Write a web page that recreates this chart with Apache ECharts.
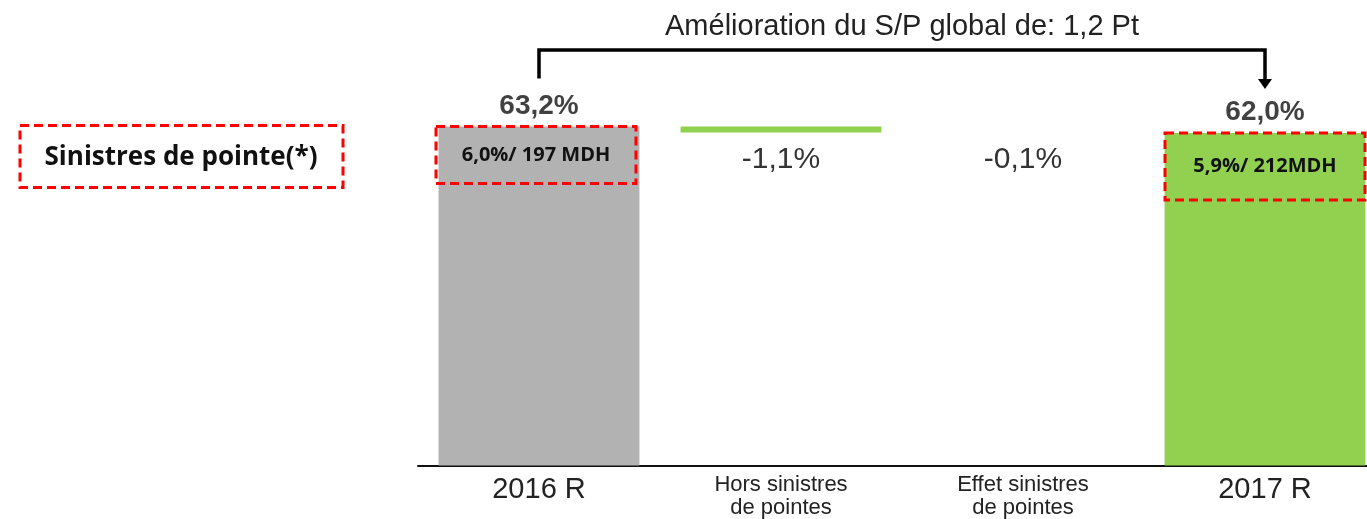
<!DOCTYPE html>
<html>
<head>
<meta charset="utf-8">
<script src="https://cdn.jsdelivr.net/npm/echarts@6/dist/echarts.min.js"></script>
<style>
  html, body { margin: 0; padding: 0; background: #fff; overflow: hidden; }
  #main { width: 1386px; height: 519px; }
</style>
</head>
<body>
<div id="main"></div>
<script>
// données du graphique (cascade S/P)
const categories = ['2016 R', 'Hors sinistres\nde pointes', 'Effet sinistres\nde pointes', '2017 R'];
const totals = [63.2, null, null, 62.0];
const deltas = [null, -1.1, -0.1, null];
const totalLabels = ['63,2%', '', '', '62,0%'];
const deltaLabels = ['', '-1,1%', '-0,1%', ''];
const boxLabels = ['6,0%/ 197 MDH', '', '', '5,9%/ 212MDH'];
const titleText = 'Amélioration du S/P global de: 1,2 Pt';
const sideNote = 'Sinistres de pointe(*)';

const GREY = '#b2b2b2', GREEN = '#92d050', RED = '#ff0000';
const SANS = '"Liberation Sans", Arial, sans-serif';
const BOLDSANS = '"Open Sans", "Noto Sans", sans-serif';

// base invisible + partie visible
let running = 0;
const base = [], visible = [];
categories.forEach(function (c, i) {
    if (totals[i] != null) {
        running = totals[i];
        base.push(0);
        visible.push(totals[i]);
    } else {
        let after = running + deltas[i];
        base.push(Math.min(running, after));
        visible.push(Math.abs(deltas[i]));
        running = after;
    }
});

const boxHeights = [57, 67, 0, 67];

const visibleData = visible.map(function (v, i) {
    if (totals[i] != null) {
        return {
            value: v,
            itemStyle: { color: i === 0 ? GREY : GREEN },
            label: {
                show: true,
                position: 'insideTop',
                distance: 0,
                offset: [i === 0 ? -3 : 0, 0],
                formatter: boxLabels[i],
                width: 200,
                height: boxHeights[i === 0 ? 0 : 3],
                lineHeight: boxHeights[i === 0 ? 0 : 3],
                align: 'center',
                borderColor: RED,
                borderWidth: 3,
                borderType: [9, 5],
                fontFamily: BOLDSANS,
                fontWeight: 'bold',
                fontSize: 20,
                color: '#111'
            }
        };
    }
    return {
        value: v,
        // l'effet -0,1 n'est pas visible dans l'original
        itemStyle: { color: Math.abs(deltas[i]) < 0.5 ? 'rgba(0,0,0,0)' : GREEN },
        label: {
            show: true,
            position: 'bottom',
            distance: 12,
            formatter: deltaLabels[i],
            fontFamily: SANS,
            fontSize: 30,
            color: '#333'
        }
    };
});

let option = {
    backgroundColor: '#fff',
    animation: false,
    grid: { left: 418, right: 0, top: 90, bottom: 53 },
    xAxis: {
        type: 'category',
        data: categories,
        axisTick: { show: false },
        axisLine: { lineStyle: { color: '#111', width: 2 } },
        axisLabel: {
            margin: 8,
            interval: 0,
            formatter: function (v) {
                if (v.indexOf('\n') >= 0) {
                    return v.split('\n').map(function (s) { return '{s|' + s + '}'; }).join('\n');
                }
                return '{b|' + v + '}';
            },
            rich: {
                b: { fontFamily: SANS, fontSize: 29, lineHeight: 32, color: '#222' },
                s: { fontFamily: SANS, fontSize: 22, lineHeight: 23, color: '#222' }
            }
        }
    },
    yAxis: { type: 'value', min: 0, max: 70, show: false },
    series: [
        {
            name: 'base',
            type: 'bar',
            stack: 'wf',
            silent: true,
            itemStyle: { color: 'rgba(0,0,0,0)' },
            data: base
        },
        {
            name: 'S/P',
            type: 'bar',
            stack: 'wf',
            barWidth: '83%',
            data: visibleData
        },
        {
            name: 'total',
            type: 'scatter',
            symbolSize: 1,
            itemStyle: { color: 'rgba(0,0,0,0)' },
            label: {
                show: true,
                position: 'top',
                distance: 6,
                formatter: function (p) { return totalLabels[p.dataIndex]; },
                fontFamily: SANS,
                fontWeight: 'bold',
                fontSize: 28,
                color: '#111'
            },
            data: totals
        }
    ]
};

const chart = echarts.init(document.getElementById('main'));
chart.setOption(option);

// accolade + titre + encadré de gauche, placés d'après les axes
const p0 = chart.convertToPixel({ seriesIndex: 1 }, [0, totals[0]]);
const p3 = chart.convertToPixel({ seriesIndex: 1 }, [3, totals[3]]);
const yBracket = 50;
chart.setOption({
    graphic: [
        {
            type: 'text',
            x: (p0[0] + p3[0]) / 2, y: 27,
            style: { text: titleText, font: '29px ' + SANS, fill: '#222', align: 'center', verticalAlign: 'middle' }
        },
        {
            type: 'polyline',
            shape: { points: [[p0[0], p0[1] - 48], [p0[0], yBracket], [p3[0], yBracket], [p3[0], p3[1] - 53]] },
            style: { stroke: '#000', lineWidth: 3.5, fill: null }
        },
        {
            type: 'polygon',
            shape: { points: [[p3[0] - 7, p3[1] - 54], [p3[0] + 7, p3[1] - 54], [p3[0], p3[1] - 44]] },
            style: { fill: '#000' }
        },
        {
            type: 'rect',
            shape: { x: 20, y: p0[1] - 1, width: 323, height: 62 },
            style: { fill: '#fff', stroke: RED, lineWidth: 3, lineDash: [9, 5] }
        },
        {
            type: 'text',
            x: 181, y: p0[1] + 31,
            style: { text: sideNote, font: 'bold 26px ' + BOLDSANS, fill: '#111', align: 'center', verticalAlign: 'middle' }
        }
    ]
});
</script>
</body>
</html>
